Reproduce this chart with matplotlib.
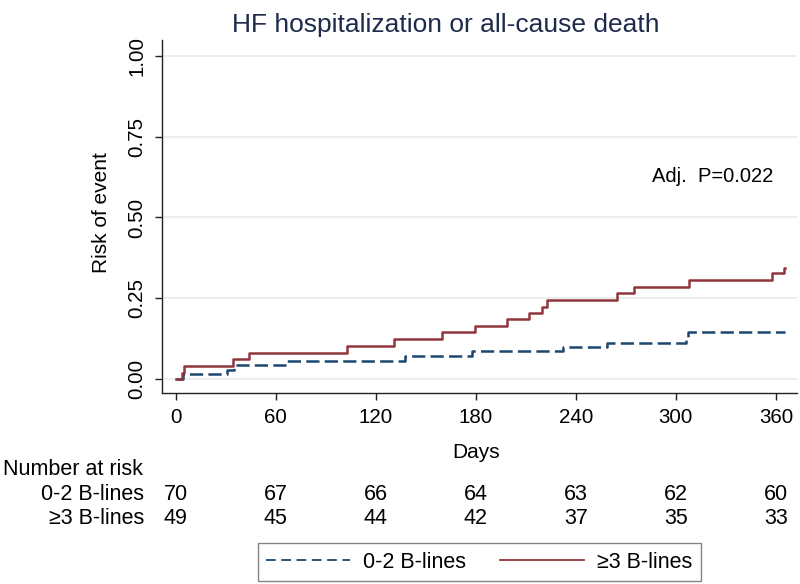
import matplotlib
matplotlib.use("Agg")
import matplotlib.pyplot as plt
from matplotlib.lines import Line2D
import matplotlib.transforms as mtransforms

plt.rcParams['font.family'] = ['Liberation Sans', 'DejaVu Sans']
plt.rcParams['lines.scale_dashes'] = False

# ---- data ----
title = "HF hospitalization or all-cause death"
group_labels = ["0-2 B-lines", "\u22653 B-lines"]

low_days = [0, 4.5, 31, 35, 67, 137.5, 178, 232.5, 258.5, 306, 307.5, 365.5]
low_risk = [0, 0.0143, 0.029, 0.043, 0.057, 0.071, 0.086, 0.100, 0.112, 0.128, 0.145, 0.145]

high_days = [0, 4, 5, 34.5, 44, 103, 131, 160, 179.5, 198.5, 212, 220, 223,
             265, 275, 308, 358, 365, 365.5]
high_risk = [0, 0.020, 0.041, 0.061, 0.082, 0.102, 0.123, 0.144, 0.164, 0.185,
             0.204, 0.224, 0.245, 0.265, 0.286, 0.306, 0.327, 0.345, 0.345]

risk_times = [0, 60, 120, 180, 240, 300, 360]
at_risk_low = [70, 67, 66, 64, 63, 62, 60]
at_risk_high = [49, 45, 44, 42, 37, 35, 33]

y_ticks = [0.0, 0.25, 0.5, 0.75, 1.0]
y_ticklabels = ["0.00", "0.25", "0.50", "0.75", "1.00"]
x_ticks = [0, 60, 120, 180, 240, 300, 360]
p_text = "Adj.  P=0.022"

blue = '#1a476f'
red = '#90353b'

W, H = 800, 584
fig = plt.figure(figsize=(8, 5.84), dpi=100)
left, right, bottom, top = 161.7, 797, 392.7, 40
ax = fig.add_axes([left / W, 1 - bottom / H, (right - left) / W, (bottom - top) / H])

ax.plot(low_days, low_risk, drawstyle='steps-post', color=blue, lw=1.8,
        dashes=(9.5, 3.8))
ax.plot(high_days, high_risk, drawstyle='steps-post', color=red, lw=1.8)

ax.set_xlim(-8.4, 372.7)
ax.set_ylim(-0.0424, 1.0495)
ax.set_yticks(y_ticks)
ax.set_yticklabels(y_ticklabels, rotation=90, va='center')
ax.set_xticks(x_ticks)
for yv in y_ticks:
    ax.axhline(yv, color='#e6eef0', lw=1.2, zorder=0)

for s in ['top', 'right']:
    ax.spines[s].set_visible(False)
for s in ['left', 'bottom']:
    ax.spines[s].set_color('#222222')
    ax.spines[s].set_linewidth(1.0)
ax.tick_params(axis='both', length=5, width=1, color='#222222', labelsize=14.8, pad=6)

fig.text(101.7 / W, 1 - 213 / H, "Risk of event", rotation=90, ha='center', va='center',
         fontsize=15)
fig.text(446 / W, 1 - 31.7 / H, title, ha='center', va='baseline', fontsize=19,
         color='#1e2b4d')
fig.text(651.7 / W, 1 - 182.3 / H, p_text, ha='left', va='baseline', fontsize=14.5)

fig.text(476 / W, 1 - 458.3 / H, "Days", ha='center', va='baseline', fontsize=15)

trans = mtransforms.blended_transform_factory(ax.transData, fig.transFigure)
fs = 15.5
fig.text(3 / W, 1 - 475 / H, "Number at risk", ha='left', va='baseline', fontsize=fs)
fig.text(144 / W, 1 - 500 / H, group_labels[0], ha='right', va='baseline', fontsize=fs)
fig.text(144 / W, 1 - 524 / H, group_labels[1], ha='right', va='baseline', fontsize=fs)
for t, n1, n2 in zip(risk_times, at_risk_low, at_risk_high):
    fig.text(t, 1 - 500 / H, str(n1), transform=trans, ha='center', va='baseline', fontsize=fs)
    fig.text(t, 1 - 524 / H, str(n2), transform=trans, ha='center', va='baseline', fontsize=fs)

handles = [Line2D([], [], color=blue, lw=1.3, dashes=(7, 4)),
           Line2D([], [], color=red, lw=1.3)]
leg = fig.legend(handles, group_labels, loc='center', bbox_to_anchor=(479.4 / W, 1 - 562.2 / H),
                 ncol=2, frameon=True, fancybox=False, edgecolor='#666666', fontsize=15.5,
                 handlelength=3.9, handletextpad=0.6, columnspacing=1.6, borderpad=0.4)
leg.get_frame().set_linewidth(1.0)

fig.savefig("out.png", dpi=100)
